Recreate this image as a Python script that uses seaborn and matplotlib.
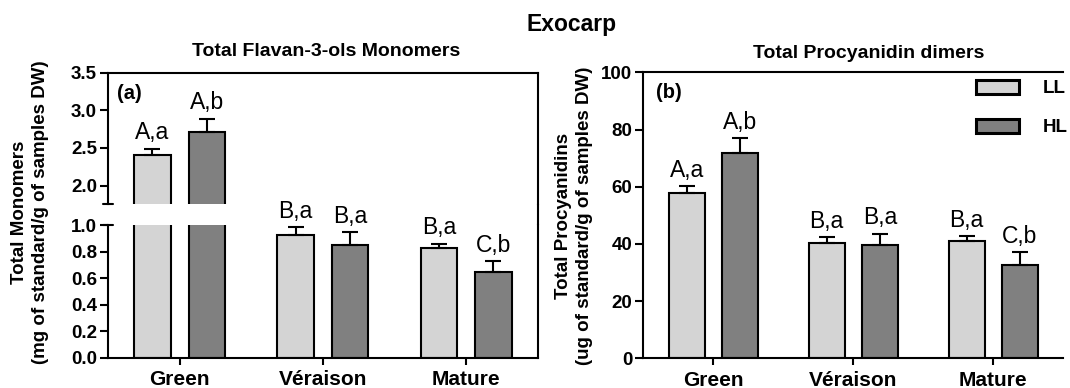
import numpy as np
import pandas as pd
import matplotlib
matplotlib.use("Agg")
import matplotlib.pyplot as plt
import seaborn as sns
from matplotlib.lines import Line2D

# ---- data -------------------------------------------------------------
stages = ["Green", "Véraison", "Mature"]
treatments = ["LL", "HL"]

monomer_ll = [2.40, 0.924, 0.830]
monomer_hl = [2.71, 0.848, 0.648]
monomer_ll_err = [0.09, 0.06, 0.03]
monomer_hl_err = [0.18, 0.10, 0.08]
monomer_ll_letters = ["A,a", "B,a", "B,a"]
monomer_hl_letters = ["A,b", "B,a", "C,b"]

dimer_ll = [57.9, 40.2, 41.0]
dimer_hl = [71.7, 39.6, 32.6]
dimer_ll_err = [2.4, 2.3, 1.8]
dimer_hl_err = [5.3, 4.0, 4.4]
dimer_ll_letters = ["A,a", "B,a", "B,a"]
dimer_hl_letters = ["A,b", "B,a", "C,b"]

palette = {"LL": "#d4d4d4", "HL": "#808080"}

# ---- style ------------------------------------------------------------
sns.set_style("ticks")
plt.rcParams["font.family"] = ["Liberation Sans", "DejaVu Sans"]
plt.rcParams["font.weight"] = "bold"
plt.rcParams["axes.labelweight"] = "bold"
plt.rcParams["axes.linewidth"] = 1.5
for key in ("text.color", "axes.labelcolor", "xtick.color", "ytick.color",
            "axes.edgecolor"):
    plt.rcParams[key] = "black"

LW = 1.5
W, H = 1070, 388
fig = plt.figure(figsize=(W / 100, H / 100), dpi=100)


def frac_box(x0, y0, x1, y1):
    """Pixel box (top-left origin) -> figure-fraction rect."""
    return [x0 / W, 1 - y1 / H, (x1 - x0) / W, (y1 - y0) / H]


def make_frame(ll, hl):
    return pd.DataFrame({
        "stage": stages * 2,
        "light": ["LL"] * 3 + ["HL"] * 3,
        "value": list(ll) + list(hl),
    })


def draw_bars(ax, df, legend=False):
    sns.barplot(data=df, x="stage", y="value", hue="light",
                order=stages, hue_order=treatments, palette=palette,
                width=0.76, gap=0.33, edgecolor="black", linewidth=LW,
                errorbar=None, legend=legend, ax=ax, saturation=1)


def add_errors_and_letters(ax, errs, letters, ylim):
    for cont, err, lab in zip(ax.containers, errs, letters):
        for bar, e, t in zip(cont, err, lab):
            x = bar.get_x() + bar.get_width() / 2
            h = bar.get_height()
            ax.errorbar(x, h, yerr=[[0], [e]], fmt="none", ecolor="black",
                        elinewidth=LW, capsize=5.5, capthick=LW, zorder=1)
            if ylim[0] < h + e < ylim[1]:
                ax.annotate(t, (x, h + e), xytext=(0, 3),
                            textcoords="offset points", ha="center",
                            va="bottom", fontsize=16.5, fontweight="normal")


def style_ticks(ax):
    ax.tick_params(axis="y", direction="out", length=6, width=LW,
                   labelsize=13.5, pad=2)
    ax.tick_params(axis="x", direction="out", length=5, width=LW,
                   labelsize=15, pad=4)
    ax.set_xlabel("")
    ax.set_ylabel("")


# ---- panel (a): broken y axis ----------------------------------------
mono = make_frame(monomer_ll, monomer_hl)
mono_err = [monomer_ll_err, monomer_hl_err]
mono_lab = [monomer_ll_letters, monomer_hl_letters]

ax_top = fig.add_axes(frac_box(108, 72.7, 537.7, 204.3))
ax_bot = fig.add_axes(frac_box(108, 225, 537.7, 357.7))

top_lim = (1.75, 3.5)
bot_lim = (0.0, 1.0)

for ax, lim in ((ax_top, top_lim), (ax_bot, bot_lim)):
    draw_bars(ax, mono)
    ax.set_xlim(-0.5, 2.5)
    ax.set_ylim(*lim)
    add_errors_and_letters(ax, mono_err, mono_lab, lim)
    style_ticks(ax)

ax_top.set_yticks([2.0, 2.5, 3.0, 3.5])
ax_top.set_yticklabels(["2.0", "2.5", "3.0", "3.5"])
ax_top.spines["bottom"].set_visible(False)
ax_top.tick_params(axis="x", bottom=False, labelbottom=False)

ax_bot.set_yticks(np.arange(0, 1.01, 0.2))
ax_bot.set_yticklabels([f"{v:.1f}" for v in np.arange(0, 1.01, 0.2)])
ax_bot.spines["top"].set_visible(False)

# caps at the ends of the broken left spine
d = 5 / 429.7
ax_top.plot([-d, d], [0, 0], transform=ax_top.transAxes, color="black",
            lw=LW, clip_on=False)
ax_bot.plot([-d, d], [1, 1], transform=ax_bot.transAxes, color="black",
            lw=LW, clip_on=False)
# right frame line runs through the break
fig.add_artist(Line2D([537.7 / W, 537.7 / W], [1 - 225 / H, 1 - 204.3 / H],
                      transform=fig.transFigure, color="black", lw=LW))

ax_top.text(0.022, 0.845, "(a)", transform=ax_top.transAxes, fontsize=14.5,
            ha="left", va="center")

fig.text(30 / W, 1 - 212 / H,
         "Total Monomers\n(mg of standard/g of samples DW)",
         rotation=90, ha="center", va="center", fontsize=13.5,
         linespacing=1.25, multialignment="center")
fig.text(326 / W, 1 - 52 / H, "Total Flavan-3-ols Monomers",
         ha="center", va="center", fontsize=14)

# ---- panel (b) --------------------------------------------------------
dim = make_frame(dimer_ll, dimer_hl)
ax_r = fig.add_axes(frac_box(643.3, 72.3, 1063.3, 358.3))
draw_bars(ax_r, dim, legend=True)
ax_r.set_xlim(-0.5, 2.5)
ax_r.set_ylim(0, 100)
ax_r.set_yticks(range(0, 101, 20))
add_errors_and_letters(ax_r, [dimer_ll_err, dimer_hl_err],
                       [dimer_ll_letters, dimer_hl_letters], (0, 100))
style_ticks(ax_r)
ax_r.spines["right"].set_visible(False)
ax_r.text(0.03, 0.93, "(b)", transform=ax_r.transAxes, fontsize=14.5,
          ha="left", va="center")

sns.move_legend(ax_r, "upper right", bbox_to_anchor=(1068 / W, 1 - 80 / H),
                bbox_transform=fig.transFigure, title=None, frameon=False,
                handlelength=2.3, handleheight=0.75, labelspacing=1.15,
                handletextpad=1.3, borderaxespad=0, borderpad=0,
                prop={"weight": "bold", "size": 13.5})
for h in ax_r.get_legend().get_patches():
    h.set_edgecolor("black")
    h.set_linewidth(2.2)

fig.text(574 / W, 1 - 216 / H,
         "Total Procyanidins\n(ug of standard/g of samples DW)",
         rotation=90, ha="center", va="center", fontsize=13.5,
         linespacing=1.25, multialignment="center")
fig.text(869 / W, 1 - 53 / H, "Total Procyanidin dimers",
         ha="center", va="center", fontsize=14)

fig.text(572 / W, 1 - 25 / H, "Exocarp", ha="center", va="center",
         fontsize=16.5)

fig.savefig("out.png", dpi=100)
